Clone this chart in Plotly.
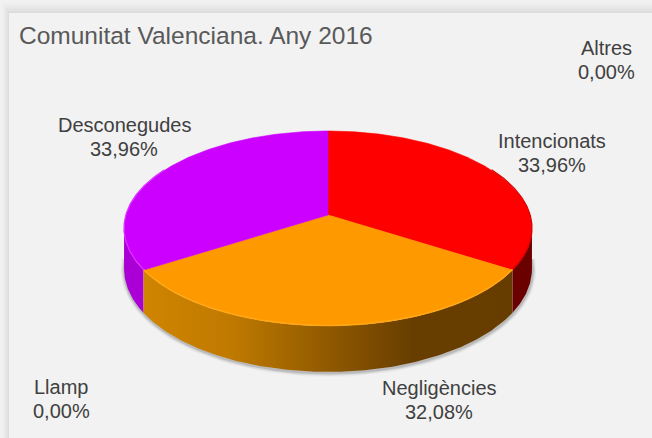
import numpy as np
import plotly.graph_objects as go

title = "Comunitat Valenciana. Any 2016"
categories = ["Intencionats", "Negligències", "Llamp", "Desconegudes", "Altres"]
values = [33.96, 32.08, 0.00, 33.96, 0.00]
top_colors = ["#ff0000", "#ff9900", "#8a8a8a", "#cc00ff", "#4472c4"]
rim_colors = ["#d80000", "#ffa91a", "#8a8a8a", "#dc33ff", "#4472c4"]
side_colors = ["#6b0000", "#cc8000", "#555555", "#aa00d6", "#2f5597"]

W, H = 652, 438
CX, CY = 328, 215
SX, SY, K, DEPTH = 202, 95.6, 0.1384, 39.6
FONT = "Liberation Sans"


def project(theta, drop=0.0):
    """Perspective view of a tilted disc; theta is clockwise from 12 o'clock."""
    t = np.radians(theta)
    w = 1 + K * np.cos(t)
    return CX + SX * np.sin(t) / w, CY - SY * np.cos(t) / w + drop * DEPTH / w


def arc(a0, a1, drop=0.0):
    n = max(2, int(abs(a1 - a0)) * 2 + 1)
    return project(np.linspace(a0, a1, n), drop)


edges = np.concatenate([[0], np.cumsum(values)]) / sum(values) * 360
LEFT_SIL, RIGHT_SIL = 98, 262

fig = go.Figure()

# soft shadow under the disc
sx, sy = arc(LEFT_SIL - 6, RIGHT_SIL + 6, 1.0)
for width, alpha in [(8, 0.04), (6, 0.06), (4, 0.09), (2.5, 0.12)]:
    fig.add_trace(go.Scatter(x=sx + 0.5, y=sy + 1, mode="lines",
                             line=dict(color=f"rgba(40,40,40,{alpha})", width=width)))

# side walls
for i in (0, 3, 1):
    a0, a1 = max(edges[i], LEFT_SIL), min(edges[i + 1], RIGHT_SIL)
    if a1 <= a0:
        continue
    x0, y0 = arc(a0, a1, 0.0)
    x1, y1 = arc(a1, a0, 1.0)
    x, y = np.concatenate([x0, x1, x0[:1]]), np.concatenate([y0, y1, y0[:1]])
    kw = dict(fillcolor=side_colors[i])
    if categories[i] == "Negligències":
        kw = dict(fillgradient=dict(type="horizontal", colorscale=[
            [0, "#d08400"], [0.233, "#c07a00"], [0.726, "#683e00"], [1, "#663c00"]]))
    fig.add_trace(go.Scatter(x=x, y=y, mode="lines", fill="toself",
                             line=dict(width=0, color=side_colors[i]), **kw))

# top faces
for i, cat in enumerate(categories):
    if values[i] <= 0:
        continue
    ax, ay = arc(edges[i], edges[i + 1])
    x = np.concatenate([[CX], ax, [CX]])
    y = np.concatenate([[CY], ay, [CY]])
    fig.add_trace(go.Scatter(x=x, y=y, mode="lines", fill="toself", name=cat,
                             fillcolor=top_colors[i],
                             line=dict(width=0.6, color=top_colors[i])))

# bevel along the rim
for i, cat in enumerate(categories):
    if values[i] <= 0:
        continue
    a0, a1 = max(edges[i], 60), min(edges[i + 1], 300)
    if a1 <= a0:
        continue
    rx, ry = arc(a0, a1)
    fig.add_trace(go.Scatter(x=rx, y=ry - 0.6, mode="lines",
                             line=dict(width=1.2, color=rim_colors[i])))

anns = [dict(x=17, y=35, text=title, xanchor="left", yanchor="middle", showarrow=False,
             font=dict(family=FONT, size=24.5, color="#595959"))]
label_xy = {"Intencionats": (552, 141), "Negligències": (439, 388), "Llamp": (61, 387),
            "Desconegudes": (124, 125), "Altres": (606, 48)}
for cat, v in zip(categories, values):
    lx, ly = label_xy[cat]
    pct = f"{v:.2f}".replace(".", ",") + "%"
    for txt, yy in ((cat, ly), (pct, ly + 24)):
        anns.append(dict(x=lx, y=yy, text=txt, xanchor="center", yanchor="middle",
                         showarrow=False, font=dict(family=FONT, size=20, color="#404040")))

# panel frame with soft outer shadow
shapes = []
for off, col in [(0, "#f1f1f1"), (2, "#eeeeee"), (4, "#e9e9e9"), (6, "#e2e2e2"), (8, "#dcdcdc")]:
    shapes.append(dict(type="rect", x0=off, y0=off * 1.4, x1=W, y1=H, layer="below",
                       line=dict(width=0), fillcolor=col))
shapes.append(dict(type="rect", x0=9, y0=13, x1=W, y1=H, layer="below",
                   line=dict(width=0), fillcolor="#f2f2f2"))

fig.update_layout(
    width=W, height=H, autosize=False, showlegend=False, hovermode=False,
    margin=dict(l=0, r=0, t=0, b=0), paper_bgcolor="#f2f2f2", plot_bgcolor="rgba(0,0,0,0)",
    xaxis=dict(range=[0, W], visible=False, fixedrange=True),
    yaxis=dict(range=[H, 0], visible=False, fixedrange=True),
    annotations=anns, shapes=shapes,
)
fig.write_html("out.html", config={"displayModeBar": False},
               post_script="document.body.style.margin='0';document.body.style.overflow='hidden';document.body.style.background='#f2f2f2';")
